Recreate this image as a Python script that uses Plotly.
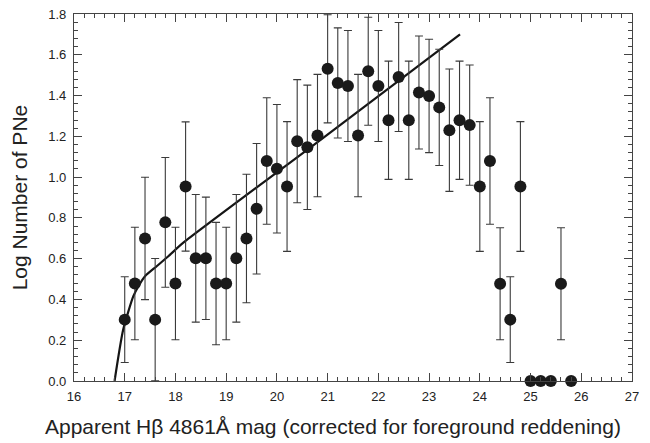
import plotly.graph_objects as go

# Observed PNLF data (apparent Hbeta mag bins, log N, symmetric error)
mag = [17.0, 17.2, 17.4, 17.6, 17.8, 18.0, 18.2, 18.4, 18.6, 18.8, 19.0, 19.2, 19.4, 19.6,
       19.8, 20.0, 20.2, 20.4, 20.6, 20.8, 21.0, 21.2, 21.4, 21.6, 21.8, 22.0, 22.2, 22.4,
       22.6, 22.8, 23.0, 23.2, 23.4, 23.6, 23.8, 24.0, 24.2, 24.4, 24.6, 24.8, 25.0, 25.2,
       25.4, 25.6, 25.8]
logn = [0.301, 0.478, 0.699, 0.301, 0.778, 0.478, 0.954, 0.602, 0.602, 0.478, 0.478, 0.602,
        0.699, 0.845, 1.079, 1.041, 0.954, 1.176, 1.146, 1.204, 1.531, 1.462, 1.447, 1.204,
        1.519, 1.447, 1.279, 1.491, 1.279, 1.415, 1.398, 1.342, 1.230, 1.279, 1.255, 0.954,
        1.079, 0.477, 0.301, 0.954, 0.0, 0.0, 0.0, 0.477, 0.0]
err = [0.21, 0.276, 0.30, 0.30, 0.318, 0.276, 0.317, 0.313, 0.30, 0.30, 0.276, 0.313,
       0.315, 0.32, 0.31, 0.315, 0.318, 0.302, 0.305, 0.30, 0.265, 0.27, 0.272, 0.30,
       0.265, 0.272, 0.29, 0.267, 0.29, 0.277, 0.278, 0.285, 0.30, 0.29, 0.295, 0.318,
       0.31, 0.275, 0.21, 0.318, 0.0, 0.0, 0.0, 0.275, 0.0]

# Fitted PNLF curve
fit_mag = [16.80, 16.97, 17.17, 17.27, 17.40, 17.63, 17.86, 18.15, 20.90, 23.61]
fit_logn = [0.0, 0.252, 0.416, 0.465, 0.514, 0.563, 0.612, 0.677, 1.19, 1.70]

x_ticks = list(range(16, 28))
y_ticks = [0.0, 0.2, 0.4, 0.6, 0.8, 1.0, 1.2, 1.4, 1.6, 1.8]
y_labels = ["0.0", "0.2", "0.4", "0.6", "0.8", "1.0", "1.2", "1.4", "1.6", "1.8"]

x_title = "Apparent H\u03b2 4861\u00c5 mag (corrected for foreground reddening)"
y_title = "Log Number of PNe"

font = "Liberation Sans, Arial, Helvetica, sans-serif"
axcol = "#444444"
txtcol = "#222222"

fig = go.Figure()
fig.add_trace(go.Scatter(
    x=fit_mag, y=fit_logn, mode="lines",
    line=dict(color="#151515", width=2.2, shape="spline", smoothing=0.6),
    hoverinfo="skip", cliponaxis=True, showlegend=False))
fig.add_trace(go.Scatter(
    x=mag, y=logn, mode="markers",
    marker=dict(color="#1a1a1a", size=12),
    error_y=dict(type="data", array=err, visible=True, color="#3a3a3a",
                 thickness=1.1, width=4),
    cliponaxis=False, showlegend=False))

common = dict(showline=True, linecolor=axcol, linewidth=1.2, mirror="ticks",
              ticks="inside", tickcolor=axcol, tickwidth=1.2, ticklen=8,
              showgrid=False, zeroline=False, automargin=False,
              tickfont=dict(family=font, size=13, color=txtcol))

fig.update_xaxes(range=[16, 27], tickvals=x_ticks, ticktext=[str(v) for v in x_ticks],
                 minor=dict(dtick=0.2, ticks="inside", ticklen=4, tickcolor=axcol, tickwidth=1),
                 ticklabelstandoff=3, **common)
fig.update_yaxes(range=[0, 1.8], tickvals=y_ticks, ticktext=y_labels,
                 minor=dict(dtick=0.04, ticks="inside", ticklen=4, tickcolor=axcol, tickwidth=1),
                 ticklabelstandoff=4, **common)

fig.add_annotation(text=x_title, xref="paper", yref="paper", x=0.464, y=-0.124,
                   xanchor="center", yanchor="middle", showarrow=False,
                   font=dict(family=font, size=21, color=txtcol))
fig.add_annotation(text=y_title, xref="paper", yref="paper", x=-0.097, y=0.5,
                   xanchor="center", yanchor="middle", showarrow=False, textangle=-90,
                   font=dict(family=font, size=21, color=txtcol))

fig.update_layout(width=650, height=443, margin=dict(l=74, r=18, t=14, b=62),
                  plot_bgcolor="white", paper_bgcolor="white")

fig.write_html("out.html", config={"displayModeBar": False},
               post_script="document.body.style.margin='0px';")
